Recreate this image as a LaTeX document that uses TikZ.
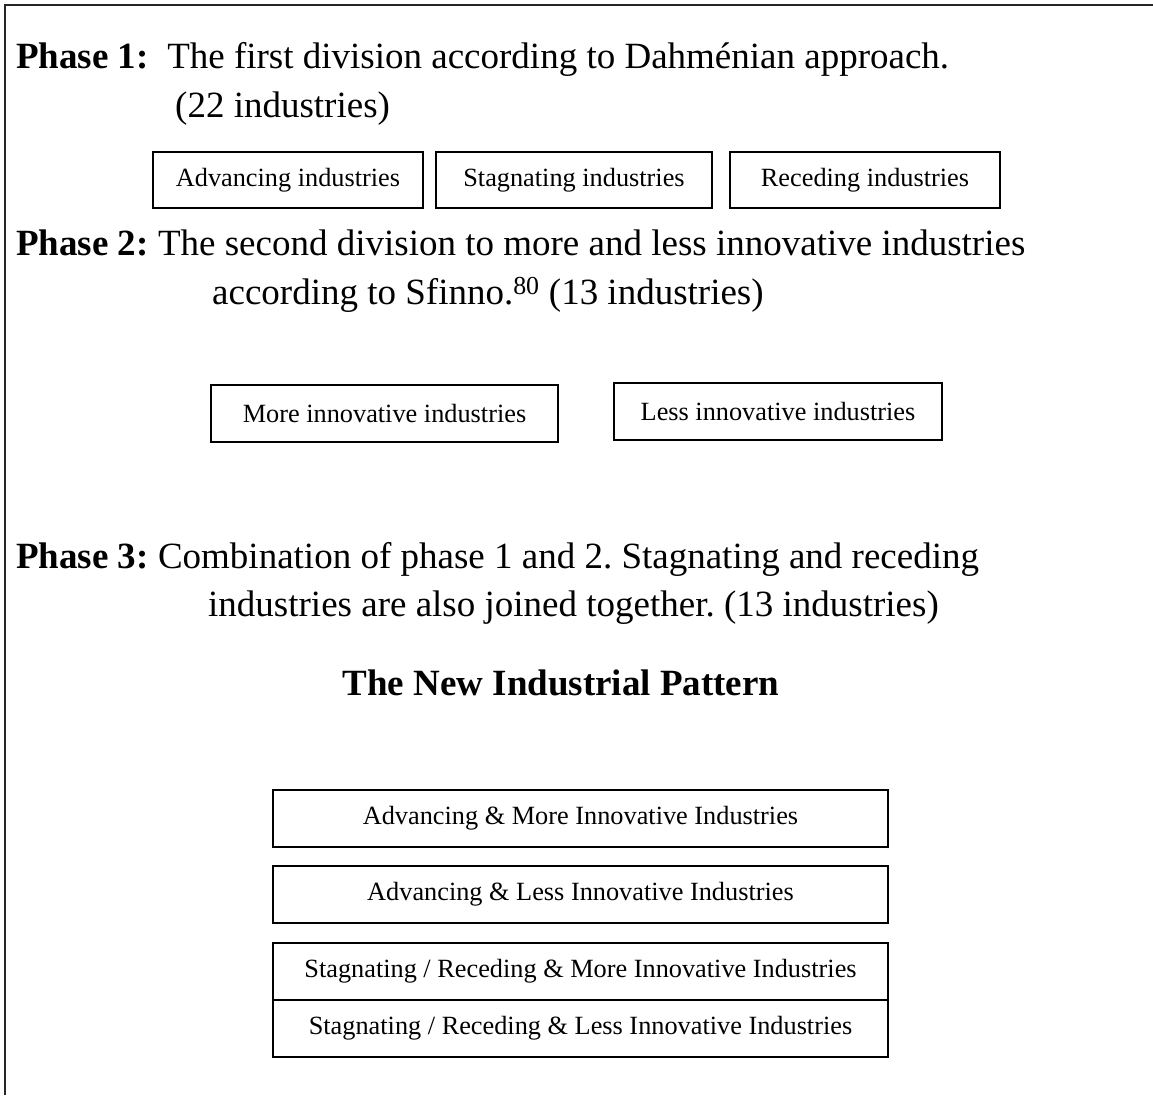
\documentclass[tikz,border=0pt]{standalone}
\usepackage{fontspec}
\setmainfont{Liberation Serif}
\frenchspacing
\begin{document}
\begin{tikzpicture}[x=1pt,y=-1pt,
  phasetext/.style={anchor=base west,inner sep=0pt,font=\fontsize{37}{44}\selectfont},
  titletext/.style={anchor=base,inner sep=0pt,font=\fontsize{37}{44}\selectfont\bfseries},
  boxnode/.style={draw=black,line width=1.5pt,inner sep=0pt,font=\fontsize{26.3}{30}\selectfont},
  frameline/.style={draw=black!85,line width=2pt}
]
\useasboundingbox (0,0) rectangle (1153,1095);
% frame (left and top edges)
\coordinate (fbl) at (4.5,1095);
\coordinate (ftl) at (4.5,5);
\coordinate (ftr) at (1153,5);
\draw[frameline] (fbl) -- (ftl) -- (ftr);

% Phase 1
\node[phasetext] (p1a) at (16,68) {\textbf{Phase 1:}\ \ The first division according to Dahménian approach.};
\node[phasetext] (p1b) at (175,117) {(22 industries)};
\node[boxnode,minimum width=270pt,minimum height=56pt] (adv) at (288,180) {Advancing industries};
\node[boxnode,minimum width=276pt,minimum height=56pt] (stag) at (574,180) {Stagnating industries};
\node[boxnode,minimum width=270pt,minimum height=56pt] (rec) at (865,180) {Receding industries};

% Phase 2
\node[phasetext] (p2a) at (16,255) {\textbf{Phase 2:} The second division to more and less innovative industries};
\node[phasetext] (p2b) at (212,304) {according to Sfinno.\textsuperscript{80} (13 industries)};
\node[boxnode,minimum width=347pt,minimum height=57pt] (more) at (384.5,413.5) {More innovative industries};
\node[boxnode,minimum width=328pt,minimum height=57pt] (less) at (778,411.5) {Less innovative industries};

% Phase 3
\node[phasetext] (p3a) at (16,568) {\textbf{Phase 3:} Combination of phase 1 and 2. Stagnating and receding};
\node[phasetext] (p3b) at (208,616) {industries are also joined together. (13 industries)};

% Title
\node[titletext] (title) at (561,695) {The New Industrial Pattern};

% New pattern boxes
\node[boxnode,minimum width=615pt,minimum height=57pt] (am) at (580.5,818.5) {Advancing \& More Innovative Industries};
\node[boxnode,minimum width=615pt,minimum height=57pt] (al) at (580.5,894.5) {Advancing \& Less Innovative Industries};
\node[boxnode,minimum width=615pt,minimum height=57pt] (sm) at (580.5,971.5) {Stagnating / Receding \& More Innovative Industries};
\node[boxnode,minimum width=615pt,minimum height=57pt] (sl) at (580.5,1028.5) {Stagnating / Receding \& Less Innovative Industries};
\end{tikzpicture}
\end{document}
